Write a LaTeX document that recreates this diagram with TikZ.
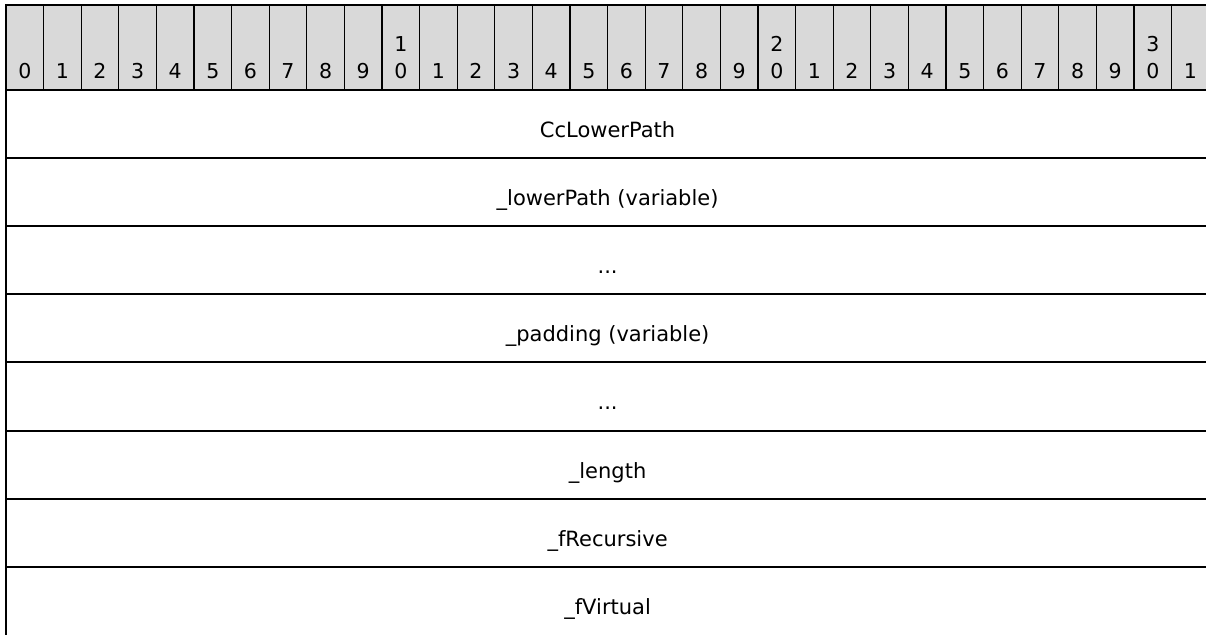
\documentclass[tikz,border=0pt]{standalone}
\usepackage{fontspec}
\setmainfont{DejaVu Sans}
\definecolor{hdrgray}{HTML}{D9D9D9}
\begin{document}
\begin{tikzpicture}[x=1pt,y=-1pt,
  hdrfill/.style={fill=hdrgray},
  thinrule/.style={draw=black,line width=1.3pt},
  thickrule/.style={draw=black,line width=2pt},
  digit/.style={inner sep=0pt,anchor=base,font=\fontsize{20.5}{24}\selectfont},
  fieldtext/.style={inner sep=0pt,anchor=base,font=\fontsize{21}{24}\selectfont}]
\useasboundingbox (0,0) rectangle (1206,634);
\clip (0,0) rectangle (1206,634);
% header band
\fill[hdrfill] (6,5) rectangle (1209.2,90);
\foreach \i in {1,...,31} {
  \draw[thinrule] ({6+37.6*\i},5) -- ({6+37.6*\i},90);
}
\foreach \i in {0,...,31} {
  \pgfmathtruncatemacro{\tens}{int(\i/10)}
  \pgfmathtruncatemacro{\ones}{mod(\i,10)}
  \ifnum\i>9 \ifnum\ones=0
    \node[digit] (ht\i) at ({6+37.6*\i+18.8},52) {\tens};
  \fi\fi
  \node[digit] (ho\i) at ({6+37.6*\i+18.8},78) {\ones};
}
% row rules
\foreach \k in {0,...,7} {
  \draw[thickrule] (6,{90+68.1*\k}) -- (1209.2,{90+68.1*\k});
}
% outer border
\draw[thickrule] (6,5) rectangle (1209.2,636);
% field texts
\node[fieldtext] (f1) at (607.6,{90+68.1*0+47.5}) {CcLowerPath};
\node[fieldtext] (f2) at (607.6,{90+68.1*1+47.5}) {\_lowerPath (variable)};
\node[fieldtext] (f3) at (607.6,{90+68.1*2+47.5}) {...};
\node[fieldtext] (f4) at (607.6,{90+68.1*3+47.5}) {\_padding (variable)};
\node[fieldtext] (f5) at (607.6,{90+68.1*4+47.5}) {...};
\node[fieldtext] (f6) at (607.6,{90+68.1*5+47.5}) {\_length};
\node[fieldtext] (f7) at (607.6,{90+68.1*6+47.5}) {\_fRecursive};
\node[fieldtext] (f8) at (607.6,{90+68.1*7+47.5}) {\_fVirtual};
\end{tikzpicture}
\end{document}
